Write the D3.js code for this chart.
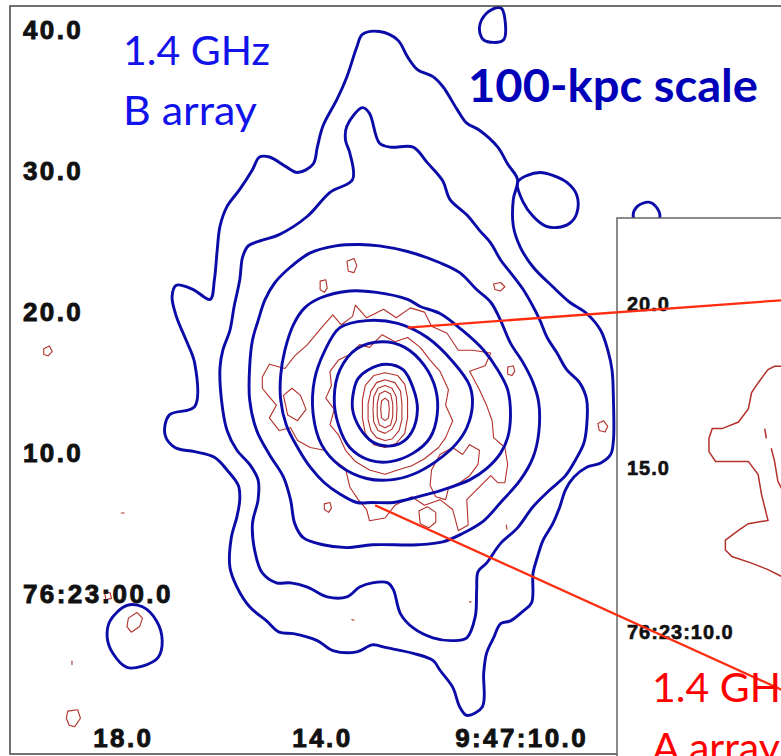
<!DOCTYPE html>
<html lang="en">
<head>
<meta charset="UTF-8">
<title>1.4 GHz B array / A array contours</title>
<script src="https://d3js.org/d3.v7.min.js"></script>
<style>
    body { margin: 0; background: white; }
    svg { display: block; }
</style>
</head>
<body>
<svg id="map" width="781" height="756"></svg>

<script>
// ---- positions: offsets from the radio core in arcsec (x to the west/right, y to the north)
const coreRA = 12.734;   // 9:47:12.734
const coreDec = 13.2;    // +76:23:13.2

const decTicks = [40, 30, 20, 10, 0];
const decLabels = ["40.0", "30.0", "20.0", "10.0", "76:23:00.0"];
const raTicks = [18, 14, 10];
const raLabels = ["18.0", "14.0", "9:47:10.0"];
const insetDecTicks = [20, 15, 10];
const insetDecLabels = ["20.0", "15.0", "76:23:10.0"];

// 1.4 GHz B array contours (blue), lowest level first
const blue1 = [[-0.4,26.7],[0.9,26.1],[1.6,24.9],[2.3,24.0],[3.4,23.5],[4.1,22.8],[5.1,21.2],[5.8,20.2],[6.7,19.7],[8.0,18.5],[8.7,17.3],[9.4,16.2],[9.1,14.8],[9.1,12.9],[9.6,11.4],[10.5,10.0],[11.9,8.6],[13.1,7.5],[14.3,6.7],[15.3,5.5],[15.8,4.1],[16.1,2.7],[16.2,0.6],[16.2,-2.3],[16.0,-3.3],[15.3,-3.9],[14.3,-4.2],[13.4,-4.9],[12.8,-5.8],[12.4,-7.0],[11.9,-8.2],[11.2,-9.4],[10.8,-10.6],[10.5,-11.7],[10.4,-13.8],[9.8,-14.4],[8.9,-15.1],[8.2,-15.3],[7.7,-16.3],[7.2,-17.4],[7.0,-18.8],[6.9,-21.2],[5.8,-21.8],[5.3,-21.2],[4.8,-19.8],[3.9,-18.6],[3.4,-17.9],[2.0,-17.4],[0.1,-17.0],[-0.9,-16.8],[-2.0,-17.3],[-3.7,-17.2],[-4.8,-16.5],[-6.5,-16.0],[-7.5,-15.9],[-8.4,-15.1],[-9.6,-14.1],[-10.5,-12.7],[-11.0,-11.3],[-10.9,-9.2],[-10.5,-7.7],[-10.3,-6.5],[-10.4,-5.5],[-11.2,-4.4],[-12.1,-3.5],[-13.5,-3.1],[-14.9,-2.8],[-15.6,-1.9],[-15.3,-0.5],[-13.5,0.1],[-13.5,3.2],[-14.1,4.8],[-14.8,6.5],[-15.1,7.9],[-14.8,8.7],[-13.6,8.4],[-12.4,7.7],[-12.1,9.1],[-11.9,11.2],[-11.7,12.9],[-11.2,14.3],[-10.3,15.5],[-9.4,16.9],[-8.9,17.8],[-8.2,17.8],[-7.0,17.1],[-6.2,16.7],[-5.1,17.3],[-4.8,18.5],[-4.4,20.0],[-3.4,21.9],[-2.7,23.5],[-2.0,25.6],[-1.6,26.5]];
const blue1Loop = [[9.4,16.0],[10.1,16.5],[11.0,16.7],[11.9,16.5],[12.9,16.0],[13.6,15.1],[13.6,13.8],[13.1,13.1],[12.2,12.8],[11.4,12.9],[10.5,13.6],[9.8,14.6]];
const blue2 = [[-1.6,21.3],[-1.1,20.9],[-0.4,18.8],[0.4,18.5],[2.0,18.5],[3.0,17.4],[4.1,16.1],[4.6,14.8],[5.8,13.7],[6.7,12.6],[7.5,11.7],[8.2,10.5],[8.9,9.6],[9.8,8.4],[10.5,7.2],[11.0,6.2],[11.5,5.0],[12.2,3.9],[12.9,2.7],[13.8,1.8],[14.3,0.6],[14.3,-1.3],[14.1,-2.5],[13.5,-3.7],[12.8,-4.8],[11.7,-5.8],[10.5,-7.0],[9.4,-8.5],[8.2,-9.6],[7.2,-11.0],[6.6,-11.6],[6.5,-12.9],[6.4,-14.8],[5.8,-16.3],[4.8,-16.5],[3.4,-16.3],[2.0,-15.6],[1.1,-14.6],[0.6,-12.9],[0.2,-12.4],[-0.9,-12.4],[-1.8,-12.7],[-2.7,-13.4],[-4.1,-13.4],[-5.5,-12.7],[-6.7,-12.4],[-7.7,-12.4],[-8.7,-11.7],[-9.2,-10.3],[-9.4,-8.2],[-9.0,-6.5],[-9.0,-5.1],[-9.6,-4.0],[-10.5,-3.0],[-11.2,-1.6],[-11.6,0.6],[-11.7,2.9],[-11.5,4.1],[-11.0,5.5],[-10.7,7.2],[-10.3,9.1],[-10.1,10.7],[-9.7,11.5],[-8.7,11.9],[-7.5,12.3],[-5.5,13.6],[-3.9,15.3],[-2.3,16.2],[-2.5,18.1],[-2.8,19.0],[-2.7,20.0]];
const blue3 = [[-1.8,11.6],[-0.4,11.5],[1.6,11.1],[3.9,10.3],[5.3,9.6],[6.5,8.4],[7.5,7.5],[8.2,6.2],[8.9,4.6],[9.8,3.2],[10.5,1.8],[10.9,0.4],[10.9,-1.8],[10.5,-3.5],[9.6,-5.1],[8.2,-6.7],[7.0,-8.0],[5.5,-8.9],[4.1,-9.5],[2.3,-9.7],[-0.9,-9.7],[-2.7,-9.9],[-4.4,-9.7],[-5.8,-9.2],[-6.4,-8.2],[-6.7,-6.5],[-7.2,-4.9],[-8.2,-3.3],[-9.1,-1.6],[-9.6,0.6],[-9.6,2.9],[-9.4,4.8],[-9.0,6.2],[-8.5,7.7],[-7.8,8.9],[-6.7,10.0],[-5.3,11.0],[-3.5,11.5]];
const blue4 = [[-2.5,8.3],[-0.6,8.2],[1.6,7.7],[2.5,7.2],[3.9,6.7],[5.5,5.5],[7.0,4.1],[8.0,2.7],[8.7,1.3],[8.9,-0.6],[8.7,-2.1],[8.2,-3.2],[7.2,-4.3],[6.0,-5.1],[4.1,-5.8],[2.3,-6.3],[0.6,-6.7],[-0.9,-6.7],[-2.0,-6.7],[-3.2,-6.1],[-4.3,-5.3],[-5.3,-4.2],[-6.2,-2.8],[-7.0,-1.2],[-7.4,0.6],[-7.4,2.3],[-7.1,4.1],[-6.5,5.9],[-5.7,7.1],[-4.6,7.8]];
const blue5 = [[-3.2,5.7],[-1.3,6.2],[0.9,6.0],[3.0,5.0],[4.8,3.3],[6.0,1.6],[6.2,0.2],[5.8,-1.4],[5.0,-2.6],[3.6,-3.8],[2.0,-4.7],[0.4,-5.1],[-1.3,-5.0],[-3.2,-4.1],[-4.5,-2.6],[-5.1,-0.4],[-5.0,2.0],[-4.3,4.0]];
const blue6 = [[-2.0,4.2],[-0.2,4.7],[1.4,4.3],[2.8,3.0],[3.6,1.3],[3.7,-0.5],[3.2,-2.1],[2.0,-3.2],[0.4,-3.8],[-1.1,-3.7],[-2.5,-2.8],[-3.3,-1.2],[-3.6,0.7],[-3.2,2.7]];
const blue7 = [[-1.2,2.7],[0.1,3.1],[1.3,2.7],[2.0,1.4],[2.3,-0.1],[1.9,-1.7],[1.1,-2.5],[0.1,-2.7],[-0.9,-2.4],[-1.8,-1.4],[-2.3,-0.1],[-2.2,1.3],[-1.9,2.1]];
const blueIslandN = [[6.7,27.0],[7.2,28.0],[8.0,28.4],[8.3,28.3],[8.4,26.1],[7.0,26.1]];
const blueIslandE = [[17.6,13.7],[17.9,14.3],[18.7,14.6],[19.2,14.3],[19.5,13.6],[19.2,12.9],[18.5,12.7],[17.8,13.1]];
const blueIslandSW = [[-19.5,-15.1],[-18.3,-14.0],[-17.2,-14.1],[-16.2,-15.1],[-15.8,-16.5],[-16.1,-17.7],[-17.2,-18.3],[-18.3,-18.4],[-19.3,-17.4],[-19.7,-16.3]];

// 1.4 GHz A array contours (red) on the same field
const redOuter = [[-8.7,2.2],[-8.2,3.1],[-7.1,2.8],[-6.4,3.7],[-5.5,4.5],[-4.5,5.7],[-3.7,6.6],[-3.1,5.9],[-2.3,6.5],[-2.1,7.3],[-1.3,6.4],[-0.1,7.0],[0.8,6.4],[1.8,7.1],[2.8,6.8],[3.3,5.8],[4.4,5.3],[5.2,4.1],[6.2,4.1],[7.5,3.9],[7.1,3.0],[6.0,2.6],[6.7,1.3],[7.2,0.2],[7.6,-0.9],[7.7,-2.1],[8.5,-2.8],[8.7,-4.0],[8.5,-5.3],[8.0,-5.3],[7.5,-4.8],[6.6,-5.7],[5.8,-6.5],[5.9,-8.3],[5.2,-8.7],[4.8,-7.2],[3.9,-6.5],[2.8,-6.9],[1.9,-6.3],[0.7,-6.9],[0.0,-7.8],[-1.1,-8.0],[-1.3,-7.2],[-1.9,-6.5],[-2.5,-5.6],[-2.8,-4.3],[-3.6,-3.7],[-4.3,-3.0],[-5.3,-2.8],[-6.2,-2.3],[-6.7,-1.4],[-7.5,-1.6],[-8.2,-0.7],[-7.7,0.2],[-8.3,0.9],[-8.7,1.4]];
const redMid = [[-3.9,2.6],[-3.3,3.4],[-2.5,3.8],[-1.8,4.5],[-1.1,4.3],[-0.2,5.2],[0.7,4.7],[1.6,5.0],[2.5,4.3],[3.2,3.4],[3.9,2.6],[4.5,1.3],[4.3,0.2],[4.8,-0.9],[4.3,-2.1],[3.8,-2.8],[2.8,-3.6],[1.9,-4.1],[0.9,-4.4],[0.0,-4.7],[-1.1,-4.4],[-2.1,-3.8],[-2.8,-3.0],[-3.3,-1.9],[-3.9,-1.2],[-3.6,-0.1],[-4.2,0.7],[-3.8,1.6]];
const redLobeSE = [[3.9,-3.3],[4.8,-2.8],[5.5,-3.3],[6.0,-2.6],[6.7,-3.0],[6.6,-4.0],[6.0,-4.8],[5.3,-5.3],[4.5,-5.7],[4.3,-6.5],[3.6,-6.3],[3.2,-5.5],[3.3,-4.4]];
const redLobeW = [[-7.2,0.9],[-6.6,1.4],[-6.0,0.9],[-5.6,-0.1],[-6.2,-0.9],[-6.9,-0.5]];
const redCore1 = [[0.0,2.5],[0.9,2.3],[1.4,1.7],[1.6,0.7],[1.6,-0.7],[1.4,-1.8],[0.8,-2.5],[0.0,-2.8],[-0.8,-2.6],[-1.4,-1.8],[-1.6,-0.7],[-1.6,0.6],[-1.4,1.6],[-0.8,2.3]];
const redCore2 = [[0.0,2.0],[0.7,1.8],[1.1,1.2],[1.2,0.3],[1.2,-0.8],[1.0,-1.6],[0.5,-2.2],[0.0,-2.3],[-0.6,-2.1],[-1.0,-1.6],[-1.2,-0.8],[-1.2,0.3],[-1.0,1.2],[-0.6,1.8]];
const redCore3 = [[0.0,1.6],[0.5,1.4],[0.8,0.8],[0.85,0.0],[0.8,-0.9],[0.5,-1.5],[0.0,-1.8],[-0.5,-1.6],[-0.8,-1.0],[-0.85,-0.1],[-0.8,0.8],[-0.5,1.4]];
const redCore4 = [[0.0,1.2],[0.4,1.0],[0.55,0.3],[0.55,-0.6],[0.4,-1.2],[0.0,-1.4],[-0.4,-1.2],[-0.55,-0.6],[-0.55,0.3],[-0.4,1.0]];
const redCore5 = [[0.0,0.7],[0.25,0.5],[0.3,-0.1],[0.25,-0.7],[0.0,-0.9],[-0.25,-0.7],[-0.3,-0.1],[-0.25,0.5]];
const redIslands = [
    [[-2.7,10.4],[-2.2,10.6],[-2.0,10.1],[-2.2,9.6],[-2.6,9.7]],
    [[-4.6,9.0],[-4.2,9.1],[-4.1,8.5],[-4.3,8.2],[-4.6,8.4]],
    [[7.7,8.8],[8.2,8.9],[8.5,8.6],[8.2,8.3],[7.8,8.4]],
    [[2.4,-7.3],[3.0,-7.0],[3.6,-7.4],[3.6,-8.1],[3.1,-8.5],[2.5,-8.2]],
    [[-4.3,-6.8],[-3.9,-6.7],[-3.8,-7.1],[-4.0,-7.4],[-4.3,-7.2]],
    [[15.1,-1.1],[15.5,-0.9],[15.8,-1.3],[15.6,-1.7],[15.2,-1.6]],
    [[8.7,2.9],[9.1,3.0],[9.2,2.6],[9.0,2.3],[8.7,2.4]],
    [[-24.2,4.2],[-23.8,4.4],[-23.6,4.0],[-23.9,3.7],[-24.2,3.8]],
    [[-22.5,-21.5],[-21.8,-21.4],[-21.6,-22.0],[-22.0,-22.6],[-22.4,-22.5],[-22.6,-22.0]],
    [[-18.2,-14.9],[-17.6,-14.5],[-17.2,-14.9],[-17.4,-15.5],[-18.0,-15.9],[-18.3,-15.5]],
    [[-19.9,-13.0],[-19.5,-13.1],[-19.4,-13.5],[-19.8,-13.6]]
];
const redSpecks = [
    [[-18.7,-7.45],[-18.5,-7.45]],
    [[-22.2,-17.95],[-22.2,-18.2]],
    [[-2.35,-15.0],[-2.2,-15.05]],
    [[6.0,-13.75],[6.1,-13.75]],
    [[8.6,-8.3],[8.65,-8.6]]
];

// inset: A array lowest contour close to the core (only its west edge is in view)
const insetOuter = [[-1.5,4.9],[-2.1,4.9],[-2.3,4.9],[-2.5,4.8],[-2.8,4.4],[-3.0,4.1],[-3.1,3.6],[-3.4,3.2],[-3.9,3.0],[-4.2,3.0],[-4.3,2.7],[-4.3,2.3],[-4.1,2.0],[-3.6,2.0],[-3.1,2.0],[-2.8,1.6],[-2.7,1.0],[-2.5,0.2],[-3.1,0.1],[-3.4,-0.1],[-3.8,-0.4],[-3.8,-0.7],[-3.6,-0.9],[-3.0,-1.1],[-2.5,-1.3],[-2.1,-1.5],[-1.5,-1.6]];
const insetInner = [[-2.4,2.4],[-2.3,2.0],[-2.2,1.4],[-2.0,1.0]];
const insetSpeck = [[-2.6,3.0],[-2.55,2.7]];

// lines from the main map to the inset: [main offset, inset offset]
const connectors = [
    [[1.6, 5.7], [-0.9, 7.0]],
    [[-0.7, -6.9], [-0.9, -5.5]]
];

// ---- layout
const svg = d3.select("#map");
const mainBox = {left: 10, top: 6, right: 781, bottom: 754, cx: 385, cy: 408, scale: 14.1};
const insetBox = {left: 617, top: 218, right: 781, bottom: 756, cx: 850, cy: 527, scale: 32.8};

function scalesFor(b) {
    const x = d3.scaleLinear()
        .domain([(b.left - b.cx) / b.scale, (b.right - b.cx) / b.scale])
        .range([b.left, b.right]);
    const y = d3.scaleLinear()
        .domain([(b.cy - b.top) / b.scale, (b.cy - b.bottom) / b.scale])
        .range([b.top, b.bottom]);
    return {x, y};
}
const m = scalesFor(mainBox);
const ins = scalesFor(insetBox);

const cosDec = Math.cos((76 + 23 / 60 + coreDec / 3600) * Math.PI / 180);
const raOff = ra => (coreRA - ra) * 15 * cosDec;
const decOff = dec => dec - coreDec;

const blueColor = "#0b0ba8";
const redColor = "#b3302b";
const labelFont = "'Liberation Sans', Arial, sans-serif";

const defs = svg.append("defs");
defs.append("clipPath").attr("id", "clipMain").append("rect")
    .attr("x", mainBox.left).attr("y", mainBox.top)
    .attr("width", mainBox.right - mainBox.left).attr("height", mainBox.bottom - mainBox.top);
defs.append("clipPath").attr("id", "clipInset").append("rect")
    .attr("x", insetBox.left).attr("y", insetBox.top)
    .attr("width", insetBox.right - insetBox.left).attr("height", insetBox.bottom - insetBox.top);

svg.append("rect").attr("width", 781).attr("height", 756).attr("fill", "white");

// ---- main map
const mainG = svg.append("g").attr("clip-path", "url(#clipMain)");

const smoothLine = d3.line().x(d => m.x(d[0])).y(d => m.y(d[1]))
    .curve(d3.curveCatmullRomClosed.alpha(0.5));
const jaggedLine = d3.line().x(d => m.x(d[0])).y(d => m.y(d[1]))
    .curve(d3.curveLinearClosed);

const redSet = [redOuter, redMid, redLobeSE, redLobeW, redCore1, redCore2, redCore3, redCore4, redCore5]
    .concat(redIslands, redSpecks);
mainG.append("g").selectAll("path")
    .data(redSet)
    .join("path")
    .attr("d", jaggedLine)
    .attr("fill", "none")
    .attr("stroke", redColor)
    .attr("stroke-width", 1.1)
    .attr("stroke-linejoin", "round");

const blueSet = [blue1, blue1Loop, blue2, blue3, blue4, blue5, blue6, blue7, blueIslandN, blueIslandE, blueIslandSW];
mainG.append("g").selectAll("path")
    .data(blueSet)
    .join("path")
    .attr("d", smoothLine)
    .attr("fill", "none")
    .attr("stroke", blueColor)
    .attr("stroke-width", 2.9)
    .attr("stroke-linejoin", "round");

svg.append("rect")
    .attr("x", mainBox.left).attr("y", mainBox.top)
    .attr("width", 800).attr("height", mainBox.bottom - mainBox.top)
    .attr("fill", "none").attr("stroke", "#444").attr("stroke-width", 1.5);

// bitmap-like heavy tick labels
function styleLabels(g, size, spacing, weight) {
    g.select(".domain").remove();
    g.selectAll("text")
        .attr("font-family", labelFont)
        .attr("font-size", size)
        .attr("font-weight", "bold")
        .attr("letter-spacing", spacing)
        .attr("fill", "#111")
        .attr("stroke", "#111")
        .attr("stroke-width", weight);
}

svg.append("g")
    .attr("transform", `translate(${mainBox.left},0)`)
    .call(d3.axisRight(m.y)
        .tickValues(decTicks.map(decOff))
        .tickFormat((d, i) => decLabels[i])
        .tickSize(0).tickPadding(13))
    .call(g => styleLabels(g, 26, 2.4, 0.9));

svg.append("g")
    .attr("transform", `translate(0,${mainBox.bottom})`)
    .call(d3.axisTop(m.x)
        .tickValues(raTicks.map(raOff))
        .tickFormat((d, i) => raLabels[i])
        .tickSize(0).tickPadding(7))
    .call(g => styleLabels(g, 26, 2.4, 0.9));

// ---- inset
svg.append("rect")
    .attr("x", insetBox.left).attr("y", insetBox.top)
    .attr("width", 200).attr("height", 600)
    .attr("fill", "white").attr("stroke", "#666").attr("stroke-width", 1.5);

const insetLine = d3.line().x(d => ins.x(d[0])).y(d => ins.y(d[1]));
svg.append("g").attr("clip-path", "url(#clipInset)")
    .selectAll("path")
    .data([insetOuter, insetInner, insetSpeck])
    .join("path")
    .attr("d", insetLine)
    .attr("fill", "none")
    .attr("stroke", redColor)
    .attr("stroke-width", 1.5);

svg.append("g")
    .attr("transform", `translate(${insetBox.left},0)`)
    .call(d3.axisRight(ins.y)
        .tickValues(insetDecTicks.map(decOff))
        .tickFormat((d, i) => insetDecLabels[i])
        .tickSize(0).tickPadding(10))
    .call(g => styleLabels(g, 20, 1, 0.6));

// ---- connecting lines
svg.append("g").selectAll("line")
    .data(connectors)
    .join("line")
    .attr("x1", d => m.x(d[0][0])).attr("y1", d => m.y(d[0][1]))
    .attr("x2", d => ins.x(d[1][0])).attr("y2", d => ins.y(d[1][1]))
    .attr("stroke", "#ff2d10")
    .attr("stroke-width", 2.3);

// ---- titles
const titles = svg.append("g").attr("font-family", "Lato, 'Open Sans', sans-serif");
titles.append("text").attr("x", 123).attr("y", 65)
    .attr("font-size", 40).attr("fill", "#1212ea")
    .attr("textLength", 147).attr("lengthAdjust", "spacingAndGlyphs")
    .text("1.4 GHz");
titles.append("text").attr("x", 123).attr("y", 125)
    .attr("font-size", 40).attr("fill", "#1212ea")
    .attr("textLength", 134).attr("lengthAdjust", "spacingAndGlyphs")
    .text("B array");
titles.append("text").attr("x", 468).attr("y", 102)
    .attr("font-size", 45).attr("font-weight", "bold").attr("fill", "#0000b8")
    .attr("textLength", 290).attr("lengthAdjust", "spacingAndGlyphs")
    .text("100-kpc scale");
// the A array title runs past the right edge, as in the original figure
titles.append("text").attr("x", 652).attr("y", 702)
    .attr("font-size", 41).attr("fill", "#ff0000")
    .text("1.4 GHz");
titles.append("text").attr("x", 652).attr("y", 762)
    .attr("font-size", 41).attr("fill", "#ff0000")
    .text("A array");
</script>
</body>
</html>
